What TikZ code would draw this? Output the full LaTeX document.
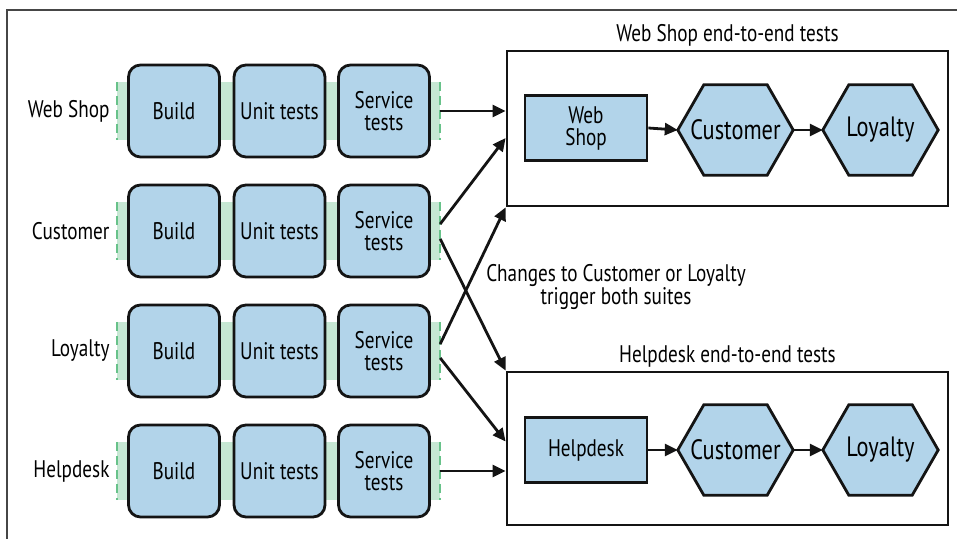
\documentclass[tikz,border=0pt]{standalone}
\usepackage{fontspec}
\setmainfont{PT Sans}[FakeStretch=0.8]
\usepackage{tikz}
\usetikzlibrary{arrows.meta,calc,positioning,backgrounds}
\definecolor{ciBlue}{RGB}{178,212,234}
\definecolor{ciBand}{RGB}{198,231,211}
\definecolor{ciDash}{RGB}{104,194,138}
\definecolor{ciInk}{RGB}{20,20,20}
\definecolor{ciFrame}{RGB}{70,70,70}
\newcommand{\hexstage}[3]{%
  \node[hexbox] (#1) at (#2) {#3};
  \begin{scope}[on background layer]
    \draw[draw=ciInk,fill=ciBlue,line width=2.8pt,line join=miter]
      (#1.west) -- ($(#1.north west)+(26,0)$) -- ($(#1.north east)+(-26,0)$) -- (#1.east)
      -- ($(#1.south east)+(-26,0)$) -- ($(#1.south west)+(26,0)$) -- cycle;
  \end{scope}
}
\tikzset{
  stagebox/.style={draw=ciInk,fill=ciBlue,rounded corners=12pt,line width=2.8pt,
    minimum width=91pt,minimum height=92pt,inner sep=0pt,align=center,
    font=\fontsize{24}{25}\selectfont},
  appbox/.style={draw=ciInk,fill=ciBlue,line width=2.8pt,minimum width=122pt,
    minimum height=65pt,inner sep=0pt,align=center,font=\fontsize{24}{25}\selectfont},
  hexbox/.style={minimum width=115pt,minimum height=90pt,inner sep=0pt,
    font=\fontsize{28}{29}\selectfont},
  suitebox/.style={draw=ciInk,line width=2.8pt,inner sep=0pt},
  band/.style={fill=ciBand,minimum width=323pt,minimum height=58pt,inner sep=0pt},
  link/.style={-{Triangle[length=13pt,width=12pt]},draw=ciInk,line width=2.8pt},
  caption/.style={font=\fontsize{24}{23}\selectfont,align=center}
}
\begin{document}
\begin{tikzpicture}[x=1pt,y=-1pt]
  \useasboundingbox (0,0) rectangle (957,538);
  \draw[ciFrame,line width=1.6pt] (7,545) -- (7,10) -- (965,10);
  \foreach \name/\label/\y in {web/Web Shop/111,cust/Customer/231,loy/Loyalty/351,help/Helpdesk/471}{
    \node[band] (\name-band) at (278.5,\y) {};
    \draw[ciDash,line width=2.4pt,dash pattern=on 9pt off 5pt] (\name-band.north west) -- (\name-band.south west);
    \draw[ciDash,line width=2.4pt,dash pattern=on 9pt off 5pt] (\name-band.north east) -- (\name-band.south east);
    \node[stagebox] (\name-build) at (174,\y) {Build};
    \node[stagebox] (\name-unit) at (279.5,\y) {Unit tests};
    \node[stagebox] (\name-svc) at (384,\y) {Service\\[-3pt]tests};
    \node[anchor=east,font=\fontsize{24}{25}\selectfont] (\name-lbl) at (113,\y) {\label};
  }
  \node[suitebox,minimum width=441pt,minimum height=155pt] (wsuite) at (727.5,128.5) {};
  \node[suitebox,minimum width=441pt,minimum height=153pt] (hsuite) at (727.5,448.5) {};
  \node[caption,above=0pt of wsuite] (wtitle) {Web Shop end-to-end tests};
  \node[caption,above=0pt of hsuite] (htitle) {Helpdesk end-to-end tests};
  \node[caption] (note) at (616,287) {Changes to Customer or Loyalty\\trigger both suites};

  \node[appbox] (wapp) at (586,128) {Web\\[-3pt]Shop};
  \hexstage{wcust}{735.5,130}{Customer}
  \hexstage{wloy}{880.5,130}{Loyalty}
  \node[appbox] (happ) at (586,450) {Helpdesk};
  \hexstage{hcust}{735.5,450}{Customer}
  \hexstage{hloy}{880.5,450}{Loyalty}

  \draw[link] (wapp.east) -- (wcust.west);
  \draw[link] (wcust.east) -- (wloy.west);
  \draw[link] (happ.east) -- (hcust.west);
  \draw[link] (hcust.east) -- (hloy.west);

  \draw[link] (web-band.east) -- (web-band.east -| wsuite.west);
  \draw[link] ($(cust-band.east)+(0,-7)$) -- ($(wsuite.west)+(0,9.5)$);
  \draw[link] ($(cust-band.east)+(0,8)$) -- (hsuite.north west);
  \draw[link] ($(loy-band.east)+(0,-7)$) -- (wsuite.south west);
  \draw[link] ($(loy-band.east)+(0,7)$) -- ($(hsuite.west)+(0,-7)$);
  \draw[link] (help-band.east) -- (help-band.east -| hsuite.west);
\end{tikzpicture}
\end{document}
